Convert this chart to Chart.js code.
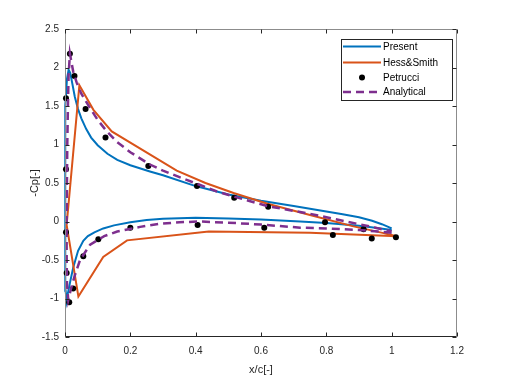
<!DOCTYPE html>
<html>
<head>
<meta charset="utf-8">
<script src="https://cdn.jsdelivr.net/npm/chart.js@4/dist/chart.umd.min.js"></script>
<style>
html,body{margin:0;padding:0;background:#fff;}
canvas{display:block;}
</style>
</head>
<body>
<canvas id="c" width="506" height="379"></canvas>
<script>
// ---- data ----
const xTicks = [0, 0.2, 0.4, 0.6, 0.8, 1, 1.2];
const yTicks = [-1.5, -1, -0.5, 0, 0.5, 1, 1.5, 2, 2.5];

const seriesNames = ['Present', 'Hess&Smith', 'Petrucci', 'Analytical'];

// Present (closed loop: TE -> lower surface -> LE -> upper surface -> TE)
const presentX = [1.0, 0.95, 0.9, 0.8, 0.72, 0.6, 0.5, 0.4, 0.3, 0.25, 0.2, 0.15, 0.117, 0.09, 0.07, 0.056, 0.04, 0.025, 0.015, 0.008, 0.005,
  0.002, 0.0, 0.0, 0.0, 0.001, 0.003, 0.006, 0.011, 0.016, 0.022, 0.03, 0.04, 0.05, 0.065, 0.08, 0.1, 0.13, 0.16, 0.2, 0.26, 0.3, 0.4, 0.5, 0.6, 0.7, 0.8, 0.85, 0.9, 0.94, 0.97, 1.0];
const presentY = [-0.11, -0.08, -0.055, -0.02, 0.0, 0.025, 0.04, 0.05, 0.035, 0.02, -0.01, -0.05, -0.09, -0.14, -0.19, -0.25, -0.38, -0.60, -0.80, -0.95, -1.03,
  -0.9, -0.5, 0.0, 0.5, 1.0, 1.5, 1.85, 1.97, 1.93, 1.80, 1.62, 1.46, 1.34, 1.20, 1.09, 0.99, 0.88, 0.80, 0.73, 0.65, 0.60, 0.46, 0.35, 0.27, 0.20, 0.13, 0.095, 0.055, 0.01, -0.035, -0.09];

// Hess&Smith (panel method, piecewise linear)
const hessX = [1.016, 0.75, 0.44, 0.19, 0.117, 0.041, 0.005, 0.044, 0.087, 0.143, 0.342, 0.43, 0.516, 0.62, 0.75, 0.88, 1.016];
const hessY = [-0.19, -0.145, -0.13, -0.245, -0.46, -0.975, -0.045, 1.77, 1.45, 1.17, 0.66, 0.50, 0.37, 0.23, 0.085, -0.06, -0.19];

// Petrucci (reference points)
const petrucciX = [0.015, 0.029, 0.003, 0.063, 0.124, 0.255, 0.404, 0.518, 0.622, 0.796, 0.914, 1.013, 0.939, 0.82, 0.61, 0.406, 0.2, 0.102, 0.056, 0.025, 0.013, 0.005, 0.003, 0.003];
const petrucciY = [2.18, 1.89, 1.60, 1.46, 1.09, 0.72, 0.46, 0.31, 0.19, -0.01, -0.10, -0.205, -0.22, -0.175, -0.08, -0.045, -0.08, -0.23, -0.45, -0.87, -1.05, -0.67, -0.14, 0.68];

// Analytical
const analyticalX = [1.0, 0.9, 0.8, 0.72, 0.6, 0.5, 0.41, 0.35, 0.29, 0.23, 0.16, 0.12, 0.077, 0.046, 0.03, 0.018, 0.01,
  0.006, 0.005, 0.005, 0.006, 0.007, 0.009, 0.011, 0.015, 0.025, 0.036, 0.05, 0.077, 0.1, 0.128, 0.16, 0.2, 0.26, 0.3, 0.36, 0.41, 0.465, 0.52, 0.62, 0.75, 0.85, 0.95, 1.0];
const analyticalY = [-0.145, -0.11, -0.09, -0.08, -0.04, -0.015, 0.0, -0.01, -0.03, -0.07, -0.13, -0.19, -0.30, -0.50, -0.70, -0.88, -1.02,
  -0.8, -0.4, 0.0, 0.5, 1.0, 1.5, 1.9, 2.18, 1.95, 1.80, 1.66, 1.47, 1.32, 1.17, 1.03, 0.90, 0.74, 0.66, 0.56, 0.48, 0.39, 0.32, 0.20, 0.10, 0.01, -0.08, -0.13];

const xLabel = 'x/c[-]';
const yLabel = '-Cp[-]';

// ---- build ----
const pts = (xs, ys) => xs.map((x, i) => ({x: x, y: ys[i]}));
const FONT = "'Liberation Sans', Arial, Helvetica, sans-serif";
const AX = '#262626';
const colors = ['#0072BD', '#D95319', '#000000', '#7E2F8E'];

const boxPlugin = {
  id: 'matlabBox',
  afterDraw(chart) {
    const c = chart.ctx, a = chart.chartArea;
    const xs = chart.scales.x, ys = chart.scales.y;
    const L = Math.round(a.left) + 0.5, R = Math.round(a.right) - 0.5;
    const T = Math.round(a.top) + 0.5, B = Math.round(a.bottom) - 0.5;
    c.save();
    c.lineWidth = 1;
    c.strokeStyle = '#8c8c8c';
    c.beginPath();
    c.moveTo(L, B); c.lineTo(L, T); c.lineTo(R, T); c.lineTo(R, B);
    c.stroke();
    c.strokeStyle = AX;
    c.beginPath(); c.moveTo(L, B); c.lineTo(R, B); c.stroke();
    const tl = 4;
    c.beginPath();
    xTicks.forEach(v => {
      const p = Math.round(xs.getPixelForValue(v)) + 0.5;
      c.moveTo(p, B); c.lineTo(p, B - tl);
      c.moveTo(p, T); c.lineTo(p, T + tl);
    });
    yTicks.forEach(v => {
      const p = Math.round(ys.getPixelForValue(v)) + 0.5;
      c.moveTo(L, p); c.lineTo(L + tl, p);
      c.moveTo(R, p); c.lineTo(R - tl, p);
    });
    c.stroke();

    // legend
    const bx = 341.5, by = 39.5, bw = 111, bh = 61;
    c.fillStyle = '#fff';
    c.fillRect(bx, by, bw, bh);
    c.strokeStyle = AX;
    c.strokeRect(bx, by, bw, bh);
    const rows = [46.5, 62.5, 77.5, 92];
    const x0 = 343, x1 = 381, tx = 383;
    c.font = '10px ' + FONT;
    c.textBaseline = 'middle';
    c.textAlign = 'left';
    rows.forEach((y, i) => {
      c.save();
      if (i === 2) {
        c.fillStyle = '#000';
        c.beginPath(); c.arc((x0 + x1) / 2, y, 3, 0, Math.PI * 2); c.fill();
      } else {
        c.strokeStyle = colors[i];
        c.lineWidth = i === 3 ? 2.5 : 2;
        if (i === 3) c.setLineDash([8, 5]);
        c.beginPath(); c.moveTo(x0, y); c.lineTo(x1, y); c.stroke();
      }
      c.restore();
      c.fillStyle = '#000';
      c.fillText(seriesNames[i], tx, y + 0.5);
    });
    c.restore();
  }
};

new Chart(document.getElementById('c'), {
  type: 'scatter',
  data: {
    datasets: [
      {label: seriesNames[0], data: pts(presentX, presentY), showLine: true, borderColor: colors[0], borderWidth: 2, pointRadius: 0, fill: false, clip: false, order: 3},
      {label: seriesNames[1], data: pts(hessX, hessY), showLine: true, borderColor: colors[1], borderWidth: 2, pointRadius: 0, fill: false, clip: false, order: 2},
      {label: seriesNames[2], data: pts(petrucciX, petrucciY), showLine: false, backgroundColor: '#000', borderColor: '#000', borderWidth: 0, pointRadius: 3, clip: false, order: 1},
      {label: seriesNames[3], data: pts(analyticalX, analyticalY), showLine: true, borderColor: colors[3], borderWidth: 2.5, borderDash: [8, 5], pointRadius: 0, fill: false, clip: false, order: 0}
    ]
  },
  options: {
    responsive: false,
    animation: false,
    devicePixelRatio: 1,
    layout: {padding: {left: 0, top: 29, right: 49, bottom: 0}},
    plugins: {legend: {display: false}, tooltip: {enabled: false}},
    scales: {
      x: {
        type: 'linear', min: 0, max: 1.2,
        afterBuildTicks: s => { s.ticks = xTicks.map(v => ({value: v})); },
        afterFit: s => { s.height = 42; },
        grid: {display: false, drawTicks: false},
        border: {display: false},
        ticks: {padding: 8, color: AX, font: {family: FONT, size: 10}, maxRotation: 0, autoSkip: false, callback: v => String(v)},
        title: {display: true, text: xLabel, color: AX, font: {family: FONT, size: 11}, padding: {top: 0, bottom: 2}}
      },
      y: {
        type: 'linear', min: -1.5, max: 2.5,
        afterBuildTicks: s => { s.ticks = yTicks.map(v => ({value: v})); },
        afterFit: s => { s.width = 65; },
        grid: {display: false, drawTicks: false},
        border: {display: false},
        ticks: {padding: 6, color: AX, font: {family: FONT, size: 10}, autoSkip: false, callback: v => String(v)},
        title: {display: true, text: yLabel, color: AX, font: {family: FONT, size: 11}, padding: {top: 28, bottom: 0}}
      }
    }
  },
  plugins: [boxPlugin]
});
</script>
</body>
</html>
